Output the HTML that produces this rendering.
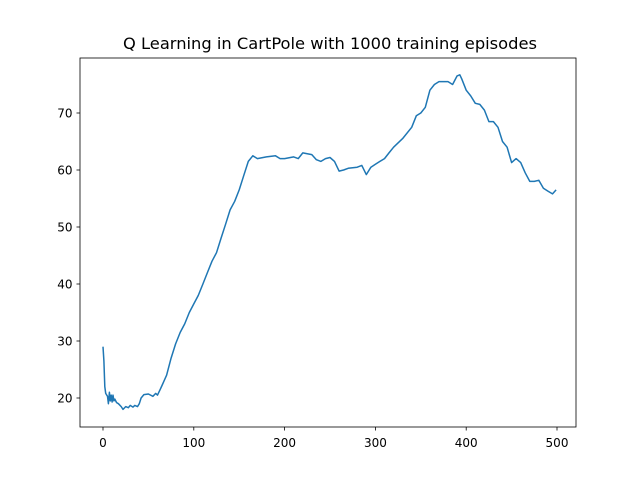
<!DOCTYPE html>
<html><head><meta charset="utf-8"><style>
body{margin:0;background:#fff;}
svg text{font-family:"DejaVu Sans","Liberation Sans",sans-serif;}
</style></head><body>
<svg width="640" height="480" xmlns="http://www.w3.org/2000/svg">
<rect width="640" height="480" fill="#fff"/>
<text x="330" y="49" text-anchor="middle" font-size="16.3">Q Learning in CartPole with 1000 training episodes</text>
<g id="ticks"></g>
<polyline id="line" fill="none" stroke="#1f77b4" stroke-width="1.5" stroke-linejoin="round"/>
<rect x="80" y="58" width="496" height="369" fill="none" stroke="#000" stroke-width="0.8"/>
</svg>
<script>
const xs=[0,1,2,3,5,6,7,8,9,10,11,12,13,15,17,20,22,25,28,30,33,35,38,40,42,45,50,55,58,60,63,65,70,75,80,85,90,95,100,105,110,115,120,125,130,135,140,145,150,155,160,165,170,180,190,195,200,210,215,220,230,235,240,245,250,255,260,265,270,280,285,290,295,300,305,310,315,320,330,340,345,350,355,360,365,370,380,385,390,393,395,400,405,410,415,420,425,430,435,440,445,450,455,460,465,470,475,480,485,490,495,499];
const ys=[29,26.5,22,20.8,20.3,19,21,19.5,20.5,19.3,20.5,19.5,19.8,19.2,19,18.5,18,18.5,18.3,18.7,18.4,18.7,18.5,19,20,20.6,20.7,20.3,20.8,20.5,21.5,22.2,24,27,29.5,31.5,33,35,36.5,38,40,42,44,45.5,48,50.5,53,54.5,56.5,59,61.5,62.5,62,62.3,62.5,62,62,62.3,62,63,62.7,61.8,61.5,62,62.2,61.5,59.8,60,60.3,60.5,60.8,59.2,60.5,61,61.5,62,63,64,65.5,67.5,69.5,70,71,74,75,75.5,75.5,75,76.5,76.7,76,74,73,71.7,71.5,70.5,68.5,68.5,67.5,65,64,61.3,62,61.3,59.5,58,58,58.2,56.8,56.3,55.8,56.5];
const xTicks=[0,100,200,300,400,500];
const yTicks=[20,30,40,50,60,70];
const X=v=>103+v*0.908, Y=v=>398-(v-20)*5.7;
document.getElementById('line').setAttribute('points',xs.map((x,i)=>X(x).toFixed(1)+','+Y(ys[i]).toFixed(1)).join(' '));
const g=document.getElementById('ticks');const ns='http://www.w3.org/2000/svg';
function mk(t,a){const e=document.createElementNS(ns,t);for(const k in a)e.setAttribute(k,a[k]);g.appendChild(e);return e;}
xTicks.forEach(v=>{
const l=mk('line',{x1:X(v),x2:X(v),y1:427,y2:430.5,stroke:'#000','stroke-width':0.8});


const t=mk('text',{x:X(v),y:447,'text-anchor':'middle','font-size':12});t.textContent=v;


});
yTicks.forEach(v=>{
const l=mk('line',{x1:76.5,x2:80,y1:Y(v),y2:Y(v),stroke:'#000','stroke-width':0.8});


const t=mk('text',{x:72.5,y:Y(v)+4.3,'text-anchor':'end','font-size':12});t.textContent=v;


});
</script>
</body></html>
